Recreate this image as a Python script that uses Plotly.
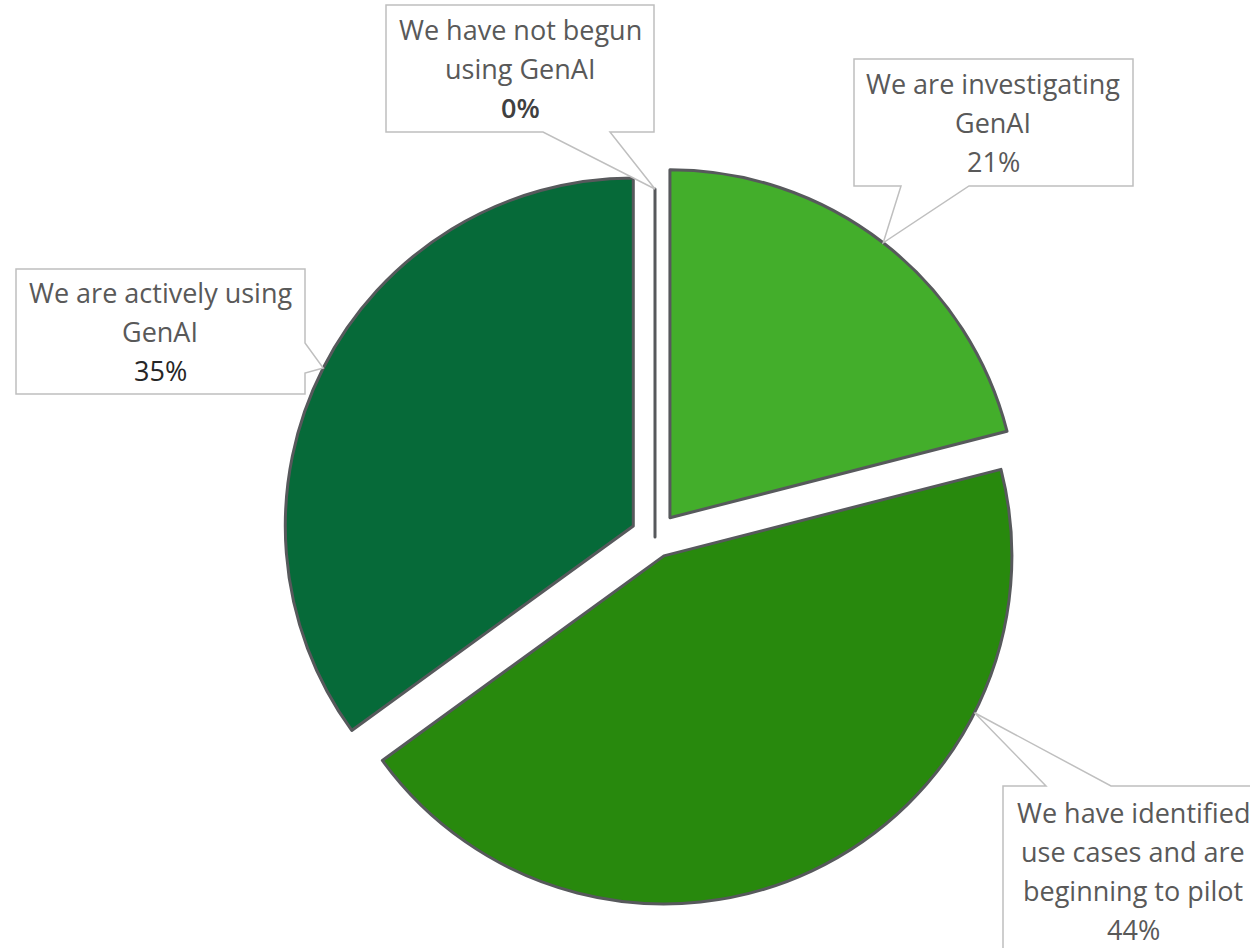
import math
import plotly.graph_objects as go

# ---- data -----------------------------------------------------------------
categories = [
    "We are investigating GenAI",
    "We have identified use cases and are beginning to pilot",
    "We are actively using GenAI",
    "We have not begun using GenAI",
]
shares = [21, 44, 35, 0]
label_lines = [
    ["We are investigating", "GenAI"],
    ["We have identified", "use cases and are", "beginning to pilot"],
    ["We are actively using", "GenAI"],
    ["We have not begun", "using GenAI"],
]

# ---- styling ----------------------------------------------------------------
slice_colors = ["#43AE2B", "#28890D", "#066A39", "#7F7F7F"]
pulls = [0.07, 0.06, 0.07, 0.0]
pct_colors = ["#595959", "#595959", "#262626", "#404040"]
pct_weight = [400, 400, 400, 600]
TEXT_COLOR = "#595959"
FONT = "Open Sans"
FONT_SIZE = 27
LINE_PITCH = 39

W, H = 1250, 948
CX, CY, R = 655, 537, 348          # pie centre / radius (px)

# callout boxes (px): left, top, right, bottom; pointer side and base; text centre x
callouts = [
    dict(box=(854, 59, 1133, 186), side="bottom", base=(901, 969), lead=0.5, tx=None),
    dict(box=(1003, 786, 1279, 955), side="top", base=(1046, 1111), lead=0.26, tx=1133),
    dict(box=(16, 269, 305, 394), side="right", base=(343, 373), lead=0.5, tx=None),
    dict(box=(386, 5, 654, 132), side="bottom", base=(543, 610), lead=0.5, tx=None),
]


def px2paper(x, y):
    return x / W, 1 - y / H


# pie domain such that Plotly places the centre / radius as above
half = R * (1 + max(pulls))
x0, y1 = px2paper(CX - half, CY - half)
x1, y0 = px2paper(CX + half, CY + half)

fig = go.Figure(
    go.Pie(
        labels=categories,
        values=shares,
        sort=False,
        direction="clockwise",
        rotation=0,
        pull=pulls,
        marker=dict(colors=slice_colors, line=dict(color="#57595C", width=3)),
        textinfo="none",
        hoverinfo="label+percent",
        domain=dict(x=[x0, x1], y=[y0, y1]),
    )
)

# ---- leader tips from the pie geometry ----------------------------------------
total = sum(shares)
cum = 0.0
tips = []
for v, p, c in zip(shares, pulls, callouts):
    a0 = 360.0 * cum / total
    cum += v
    a1 = 360.0 * cum / total
    mid = math.radians((a0 + a1) / 2)
    sx = CX + p * R * math.sin(mid)
    sy = CY - p * R * math.cos(mid)
    t = math.radians(a0 + c["lead"] * (a1 - a0))
    tips.append((sx + R * math.sin(t), sy - R * math.cos(t)))

shapes = []
annotations = []
for i, c in enumerate(callouts):
    l, t, r, b = c["box"]
    tx, ty = tips[i]
    b1, b2 = c["base"]
    if c["side"] == "bottom":
        pts = [(l, t), (r, t), (r, b), (b2, b), (tx, ty), (b1, b), (l, b)]
    elif c["side"] == "top":
        pts = [(l, t), (b1, t), (tx, ty), (b2, t), (r, t), (r, b), (l, b)]
    else:  # right
        pts = [(l, t), (r, t), (r, b1), (tx, ty), (r, b2), (r, b), (l, b)]
    pp = [px2paper(x, y) for x, y in pts]
    path = "M " + " L ".join(f"{x:.5f},{y:.5f}" for x, y in pp) + " Z"
    shapes.append(
        dict(type="path", xref="paper", yref="paper", path=path,
             fillcolor="white", line=dict(color="#BFBFBF", width=1.5), layer="above")
    )

    lines = [(s, TEXT_COLOR, 400) for s in label_lines[i]]
    lines.append((f"{shares[i]}%", pct_colors[i], pct_weight[i]))
    cxb = c["tx"] if c["tx"] is not None else (l + r) / 2
    cyb = (t + b) / 2
    n = len(lines)
    for j, (txt, col, wt) in enumerate(lines):
        ly = cyb - (n - 1) / 2 * LINE_PITCH + j * LINE_PITCH
        ax, ay = px2paper(cxb, ly)
        annotations.append(
            dict(x=ax, y=ay, xref="paper", yref="paper", text=txt, showarrow=False,
                 xanchor="center", yanchor="middle",
                 font=dict(family=FONT, size=FONT_SIZE, color=col, weight=wt))
        )

fig.update_layout(
    width=W,
    height=H,
    margin=dict(l=0, r=0, t=0, b=0),
    paper_bgcolor="white",
    plot_bgcolor="white",
    showlegend=False,
    shapes=shapes,
    annotations=annotations,
)

fig.write_html("out.html")
